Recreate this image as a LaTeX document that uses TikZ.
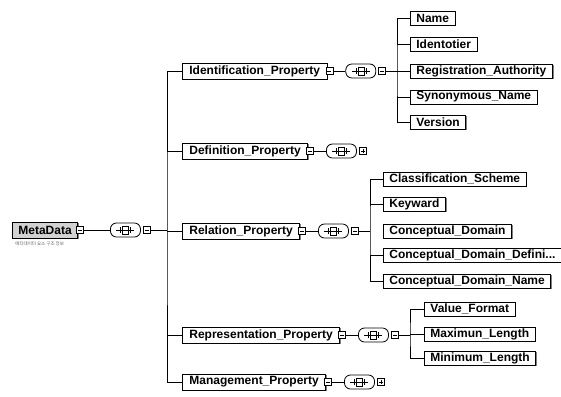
\documentclass[tikz,border=0pt]{standalone}
\usepackage{fontspec}
\setmainfont{Liberation Sans}
\newfontfamily\krfont{Noto Sans CJK KR}
\usetikzlibrary{positioning,shadows}

\tikzset{
	elem/.style={draw,thick,fill=white,anchor=west,font=\bfseries\fontsize{12}{13}\selectfont,
		inner xsep=7pt,inner ysep=0pt,minimum height=16pt,
		drop shadow={shadow xshift=1.3pt,shadow yshift=-1.3pt,fill=black!50,opacity=1}},
	leaf/.style={elem,minimum height=14pt,inner xsep=6pt},
	togl/.style={draw,thick,fill=white,minimum size=7pt,inner sep=0pt},
	togminus/.style={togl,path picture={\draw[thin] ([xshift=-2pt]path picture bounding box.center) -- ([xshift=2pt]path picture bounding box.center);}},
	togplus/.style={togl,path picture={\draw[thin] ([xshift=-2pt]path picture bounding box.center) -- ([xshift=2pt]path picture bounding box.center);
		\draw[thin] ([yshift=-2pt]path picture bounding box.center) -- ([yshift=2pt]path picture bounding box.center);}},
	seqbox/.style={draw,thick,fill=white,rounded corners=6pt,minimum width=30pt,minimum height=14pt,inner sep=0pt}
}

\begin{document}
\begin{tikzpicture}[x=1pt,y=-1pt,thick]
		\useasboundingbox (0,0) rectangle (561,396);
		% root
		\node[elem,fill=gray!35,font=\bfseries\fontsize{12}{13}\selectfont,minimum height=16pt,inner xsep=6pt] (meta) at (12,230) {MetaData};
		\node[togminus] (metat) at ([xshift=2pt]meta.east) {};
		\node[seqbox,right=26pt of metat] (metas) {};
		\node[togminus,right=2pt of metas] (metac) {};
		\node[anchor=west,font=\krfont\fontsize{4.5}{5}\selectfont,text=black!60,inner sep=0pt] (metanote) at (15,244) {메타데이터 요소 구조 정보};
		\coordinate (mbus) at (167,230);

		% properties
		\node[elem] (idp) at (182,71) {Identification\_Property};
		\node[elem] (defp) at (182,151) {Definition\_Property};
		\node[elem] (relp) at (182,231) {Relation\_Property};
		\node[elem] (repp) at (182,335) {Representation\_Property};
		\node[elem] (mgp) at (182,382) {Management\_Property};

		\node[togminus] (idpt) at ([xshift=2pt]idp.east) {};
		\node[togminus] (defpt) at ([xshift=2pt]defp.east) {};
		\node[togminus] (relpt) at ([xshift=2pt]relp.east) {};
		\node[togminus] (reppt) at ([xshift=2pt]repp.east) {};
		\node[togminus] (mgpt) at ([xshift=2pt]mgp.east) {};

		\node[seqbox,right=12pt of idpt] (idps) {};
		\node[seqbox,right=12pt of defpt] (defs) {};
		\node[seqbox,right=12pt of relpt] (rels) {};
		\node[seqbox,right=12pt of reppt] (reps) {};
		\node[seqbox,right=12pt of mgpt] (mgs) {};

		\node[togminus,right=2pt of idps] (idpc) {};
		\node[togplus,right=2pt of defs] (defc) {};
		\node[togminus,right=2pt of rels] (relc) {};
		\node[togminus,right=2pt of reps] (repc) {};
		\node[togplus,right=2pt of mgs] (mgc) {};

		% sequence icons
		\foreach \s in {metas,idps,defs,rels,reps,mgs} {
			\draw[thin] ([xshift=-9pt]\s.center) -- ([xshift=9pt]\s.center);
			\draw[thin,fill=white] ([xshift=-3pt,yshift=-4pt]\s.center) rectangle ([xshift=3pt,yshift=4pt]\s.center);
			\draw[thin] ([xshift=-3pt]\s.center) -- ([xshift=3pt]\s.center);
			\draw[thin] ([xshift=-5pt,yshift=-3pt]\s.center) -- ([xshift=-5pt,yshift=3pt]\s.center);
			\draw[thin] ([xshift=5pt,yshift=-3pt]\s.center) -- ([xshift=5pt,yshift=3pt]\s.center);
		}

		% identification children
		\coordinate (ibus) at (397,71);
		\node[leaf] (name) at (410,18) {Name};
		\node[leaf] (ident) at (410,44) {Identotier};
		\node[leaf] (regauth) at (410,71) {Registration\_Authority};
		\node[leaf] (synname) at (410,97) {Synonymous\_Name};
		\node[leaf] (version) at (410,122) {Version};

		% relation children
		\coordinate (rbus) at (370,231);
		\node[leaf] (clsch) at (383,179) {Classification\_Scheme};
		\node[leaf] (keyw) at (383,204) {Keyward};
		\node[leaf] (cdom) at (383,231) {Conceptual\_Domain};
		\node[leaf] (cdomdef) at (383,255) {Conceptual\_Domain\_Defini...};
		\node[leaf] (cdomname) at (383,281) {Conceptual\_Domain\_Name};

		% representation children
		\coordinate (pbus) at (410,335);
		\node[leaf] (valfmt) at (424,309) {Value\_Format};
		\node[leaf] (maxlen) at (424,334) {Maximun\_Length};
		\node[leaf] (minlen) at (424,358) {Minimum\_Length};

		% connectors
		\draw (metat) -- (metas);
		\draw (metac) -- (mbus);
		\draw (idp.west) -| (mbus) |- (mgp.west);
		\draw (defp.west) -- (defp.west -| mbus);
		\draw (relp.west) -- (relp.west -| mbus);
		\draw (repp.west) -- (repp.west -| mbus);
		\path (idpt) edge (idps)
			(defpt) edge (defs)
			(relpt) edge (rels)
			(reppt) edge (reps)
			(mgpt) edge (mgs);

		\draw (idpc) -- (ibus);
		\draw (name.west) -| (ibus) |- (version.west);
		\draw (ident.west) -- (ident.west -| ibus);
		\draw (regauth.west) -- (regauth.west -| ibus);
		\draw (synname.west) -- (synname.west -| ibus);

		\draw (relc) -- (rbus);
		\draw (clsch.west) -| (rbus) |- (cdomname.west);
		\draw (keyw.west) -- (keyw.west -| rbus);
		\draw (cdomdef.west) -- (cdomdef.west -| rbus);

		\draw (repc) -- (pbus);
		\draw (valfmt.west) -| (pbus) |- (minlen.west);
		\draw (maxlen.west) -- (maxlen.west -| pbus);
\end{tikzpicture}
\end{document}
